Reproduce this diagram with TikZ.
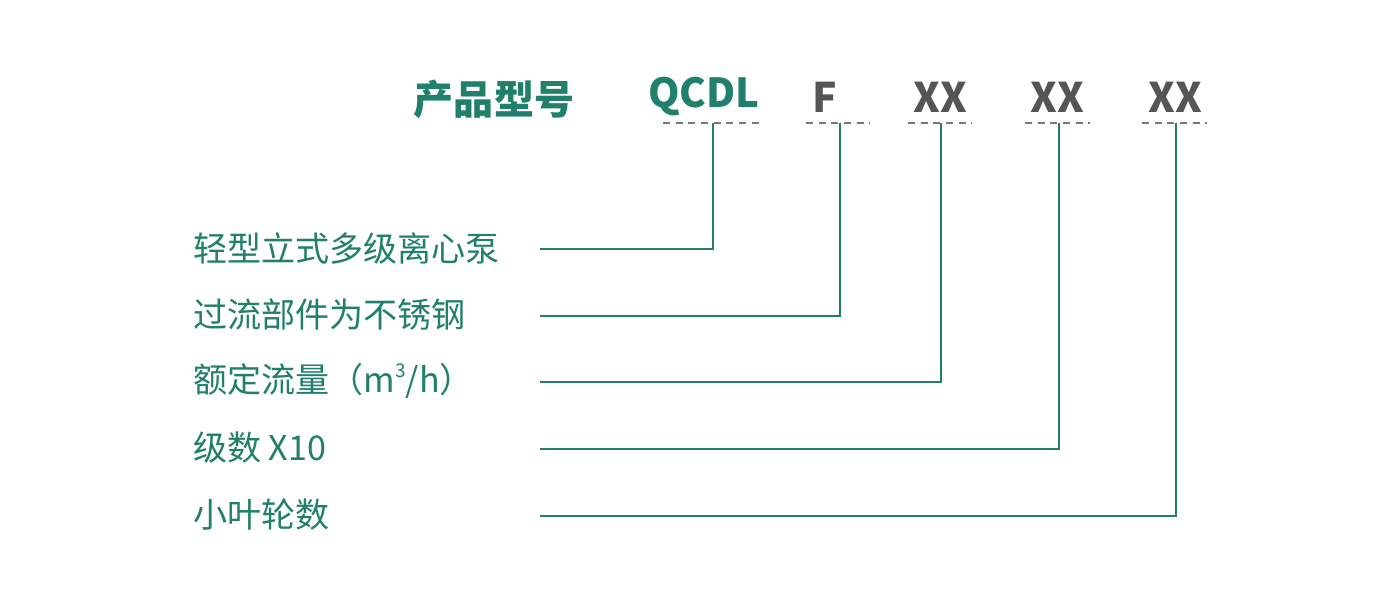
\documentclass[tikz,border=0pt]{standalone}
\usepackage{fontspec}
\newfontfamily\cjk{Noto Sans CJK SC}
\usetikzlibrary{positioning}
\definecolor{pumpteal}{RGB}{32,128,108}
\definecolor{codegray}{RGB}{85,85,85}
\definecolor{dashgray}{RGB}{120,120,120}
\tikzset{
  headtext/.style={font=\cjk\bfseries\fontsize{57}{60}\selectfont, text=pumpteal, inner sep=0pt},
  codetext/.style={font=\cjk\bfseries\fontsize{58}{62}\selectfont, text=codegray, inner sep=0pt},
  desctext/.style={font=\cjk\fontsize{48.5}{52}\selectfont, text=pumpteal, anchor=west, inner sep=0pt},
  underdash/.style={dashgray, line width=1.5pt, dash pattern=on 10pt off 8pt},
  leader/.style={pumpteal, line width=2pt}
}
\begin{document}
\begin{tikzpicture}[x=0.05cm, y=-0.05cm]
  \useasboundingbox[fill=white] (0,0) rectangle (1400,609);
  % header row
  \node[headtext] (head) at (494,99) {产品型号};
  \node[headtext] (cQCDL) at (704,97) {QCDL};
  \node[codetext] (cF) at (825,97) {F};
  \node[codetext] (cA) at (940,97) {XX};
  \node[codetext] (cB) at (1057,97) {XX};
  \node[codetext] (cC) at (1175,97) {XX};
  % dashed marks under the codes
  \draw[underdash] (663,123) -- (763,123);
  \draw[underdash] (806,123) -- (870,123);
  \draw[underdash] (908,123) -- (972,123);
  \draw[underdash] (1025,123) -- (1090,123);
  \draw[underdash] (1142,123) -- (1207,123);
  % descriptions
  \node[desctext] (d1) at (193,248) {轻型立式多级离心泵};
  \node[desctext] (d2) at (193,315) {过流部件为不锈钢};
  \node[desctext] (d3) at (193,381) {额定流量（m\raisebox{0.45em}{\fontsize{27}{29}\selectfont 3}/h）};
  \node[desctext] (d4) at (193,448) {级数 X10};
  \node[desctext] (d5) at (193,515) {小叶轮数};
  % leaders
  \foreach \x/\y in {713/249, 840/316, 941/382, 1059/449, 1176/516}
    \draw[leader] (540,\y) -| (\x,123);
\end{tikzpicture}
\end{document}
